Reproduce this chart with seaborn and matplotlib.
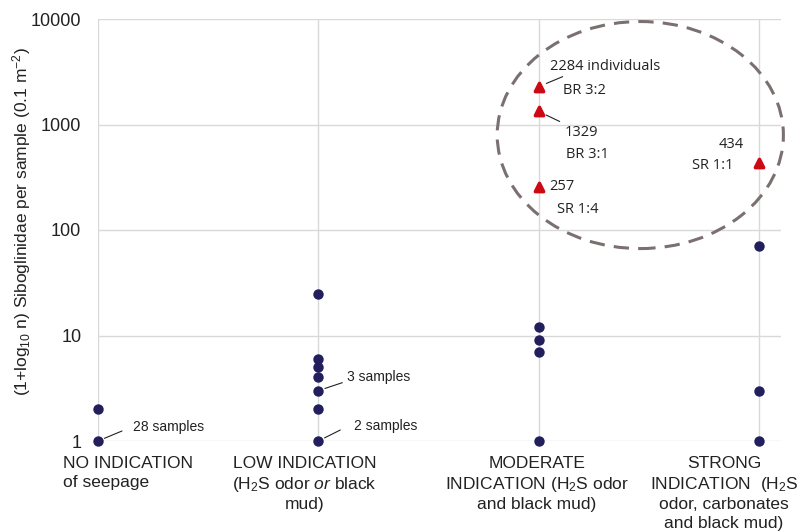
import seaborn as sns
import pandas as pd
import numpy as np
import matplotlib.pyplot as plt
from matplotlib.patches import Ellipse
from matplotlib.ticker import NullLocator
from matplotlib.transforms import ScaledTranslation

# data
categories = ['NO', 'LOW', 'MODERATE', 'STRONG']
tick_labels = ['NO INDICATION\nof seepage',
               'LOW INDICATION\n(H$_2$S odor $\\mathit{or}$ black\nmud)',
               'MODERATE\nINDICATION (H$_2$S odor\nand black mud)',
               'STRONG\nINDICATION  (H$_2$S\nodor, carbonates\nand black mud)']
no_values = [1, 2]
low_values = [1, 2, 3, 4, 5, 6, 25]
moderate_values = [1, 7, 9, 12]
strong_values = [1, 3, 70]
high_cats = ['MODERATE', 'MODERATE', 'MODERATE', 'STRONG']
high_values = [2284, 1329, 257, 434]
high_labels = [('2284 individuals', 'BR 3:2'), ('1329', 'BR 3:1'),
               ('257', 'SR 1:4'), ('434', 'SR 1:1')]

navy = '#231e5c'
red = '#cc0a14'

sns.set_style('white')
plt.rcParams['font.family'] = ['Liberation Sans', 'DejaVu Sans']
plt.rcParams['mathtext.fontset'] = 'custom'
plt.rcParams['mathtext.rm'] = 'Liberation Sans'
plt.rcParams['mathtext.it'] = 'Liberation Sans:italic'
plt.rcParams['mathtext.default'] = 'regular'

df = pd.DataFrame({
    'category': ['NO'] * len(no_values) + ['LOW'] * len(low_values)
                + ['MODERATE'] * len(moderate_values) + ['STRONG'] * len(strong_values),
    'value': no_values + low_values + moderate_values + strong_values,
})
df_high = pd.DataFrame({'category': high_cats, 'value': high_values})

fig = plt.figure(figsize=(7.97, 5.32), dpi=100)
ax = fig.add_axes([98 / 797, 91 / 532, 683 / 797, 422 / 532])
ax.set_yscale('log')

sns.stripplot(data=df, x='category', y='value', order=categories, jitter=False,
              color=navy, size=7.5, linewidth=0, ax=ax)
sns.stripplot(data=df_high, x='category', y='value', order=categories, jitter=False,
              color=red, marker='^', size=6, linewidth=2.5, edgecolor=red, ax=ax)
for c in ax.collections:
    c.set_clip_on(False)
ax.collections[-1].set_joinstyle('round')

ax.set_xlim(0, 3.1)
ax.set_ylim(1, 10000)
ax.set_yticks([1, 10, 100, 1000, 10000])
ax.set_yticklabels(['1', '10', '100', '1000', '10000'])
ax.yaxis.set_minor_locator(NullLocator())
ax.set_xticks(range(len(categories)))
ax.set_xticklabels(tick_labels, fontsize=12.5, color='#222222', linespacing=1.27)
ax.tick_params(axis='y', length=0, pad=12, labelsize=13, labelcolor='#222222')
ax.tick_params(axis='x', length=0, pad=11)
ax.grid(True, color='#d9d9d9', lw=1)
ax.set_axisbelow(True)
for s in ax.spines.values():
    s.set_visible(False)
ax.set_xlabel('')
ax.set_ylabel('(1+log$_{10}$ n) Siboglinidae per sample (0.1 m$^{-2}$)',
              fontsize=12.5, color='#222222')
ax.yaxis.set_label_coords(-0.095, 0.52)

# shift category labels like the original layout
shifts = [-35, -14, -2, -35]
for lab, dx in zip(ax.get_xticklabels(), shifts):
    lab.set_transform(lab.get_transform() + ScaledTranslation(dx / 100, 0, fig.dpi_scale_trans))
labs = ax.get_xticklabels()
labs[0].set_ha('left')
labs[0].set_multialignment('left')

# sample-count notes
line_kw = dict(arrowstyle='-', color='#222222', lw=0.8, shrinkA=0, shrinkB=5)
notes = [(0, 1, '28 samples', (24, 10), (35, 14)),
         (1, 3, '3 samples', (24, 8), (29, 14)),
         (1, 1, '2 samples', (22, 11), (36, 15))]
for x, y, txt, lend, toff in notes:
    ax.annotate('', xy=(x, y), xytext=lend, textcoords='offset pixels', arrowprops=line_kw)
    ax.annotate(txt, xy=(x, y), xytext=toff, textcoords='offset pixels',
                fontsize=10, va='center', color='#222222')

# high-density notes
xpos = [categories.index(c) for c in high_cats]
offs = [((11, 20), (24, -4), (24, 10)),
        ((26, -21), (27, -43), (21, -10)),
        ((11, 0), (18, -23), None),
        ((-40, 18), (-67, -3), None)]
for x, y, (t1, t2), (o1, o2, ln) in zip(xpos, high_values, high_labels, offs):
    if ln is not None:
        ax.annotate('', xy=(x, y), xytext=ln, textcoords='offset pixels',
                    arrowprops=dict(arrowstyle='-', color='#222222', lw=0.8, shrinkA=0, shrinkB=6))
    ax.annotate(t1, xy=(x, y), xytext=o1, textcoords='offset pixels', fontsize=10.5,
                va='center', family=['Open Sans', 'DejaVu Sans'], color='#222222')
    ax.annotate(t2, xy=(x, y), xytext=o2, textcoords='offset pixels', fontsize=10.5,
                va='center', family=['Open Sans', 'DejaVu Sans'], color='#222222')

ell = Ellipse((0.794, 0.725), 0.419, 0.538, transform=ax.transAxes, fill=False,
              edgecolor='#7b7070', lw=2.2, linestyle=(0, (5, 3)), clip_on=False)
ax.add_patch(ell)

fig.savefig('out.png', dpi=100)
